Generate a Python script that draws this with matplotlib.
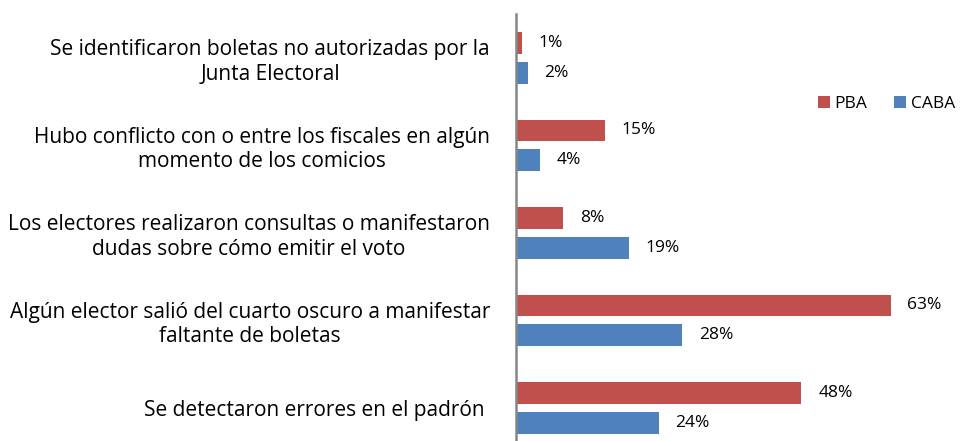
import numpy as np
import matplotlib
matplotlib.use('Agg')
import matplotlib.pyplot as plt

plt.rcParams['font.family'] = ['Open Sans', 'DejaVu Sans']

# Datos
categorias = [
    'Se identificaron boletas no autorizadas por la\nJunta Electoral',
    'Hubo conflicto con o entre los fiscales en algún\nmomento de los comicios',
    'Los electores realizaron consultas o manifestaron\ndudas sobre cómo emitir el voto',
    'Algún elector salió del cuarto oscuro a manifestar\nfaltante de boletas',
    'Se detectaron errores en el padrón ',
]
pba = [1, 15, 8, 63, 48]
caba = [2, 4, 19, 28, 24]

color_pba = '#C0504D'
color_caba = '#4F81BD'

fig = plt.figure(figsize=(9.64, 4.41), dpi=100)
ax = fig.add_axes([0.535, -0.024, 0.465, 0.992])

y = np.arange(len(categorias))
alto = 0.25
off = 0.17

ax.barh(y - off, pba, height=alto, color=color_pba, label='PBA')
ax.barh(y + off, caba, height=alto, color=color_caba, label='CABA')

# Etiquetas de valor
for yi, v in zip(y, pba):
    ax.annotate(f'{v}%', (v, yi - off), xytext=(12, 0), textcoords='offset points',
                va='center', ha='left', fontsize=12.5)
for yi, v in zip(y, caba):
    ax.annotate(f'{v}%', (v, yi + off), xytext=(12, 0), textcoords='offset points',
                va='center', ha='left', fontsize=12.5)

ax.set_ylim(len(categorias) - 0.5, -0.5)
ax.set_xlim(0, 75.3)
ax.set_yticks(y)
ax.set_yticklabels(categorias, fontsize=15, ha='right', multialignment='center')
ax.tick_params(axis='y', length=0, pad=18.5)
ax.set_xticks([])

for s in ['top', 'right', 'bottom']:
    ax.spines[s].set_visible(False)
ax.spines['left'].set_color('#868686')
ax.spines['left'].set_linewidth(1.8)

ax.legend(loc='center left', bbox_to_anchor=(0.849, 0.764), bbox_transform=fig.transFigure,
          ncol=2, frameon=False, borderpad=0, borderaxespad=0,
          fontsize=12.5, handlelength=0.68, handleheight=0.68, columnspacing=1.55,
          handletextpad=0.25)

fig.savefig('out.png', dpi=100)
